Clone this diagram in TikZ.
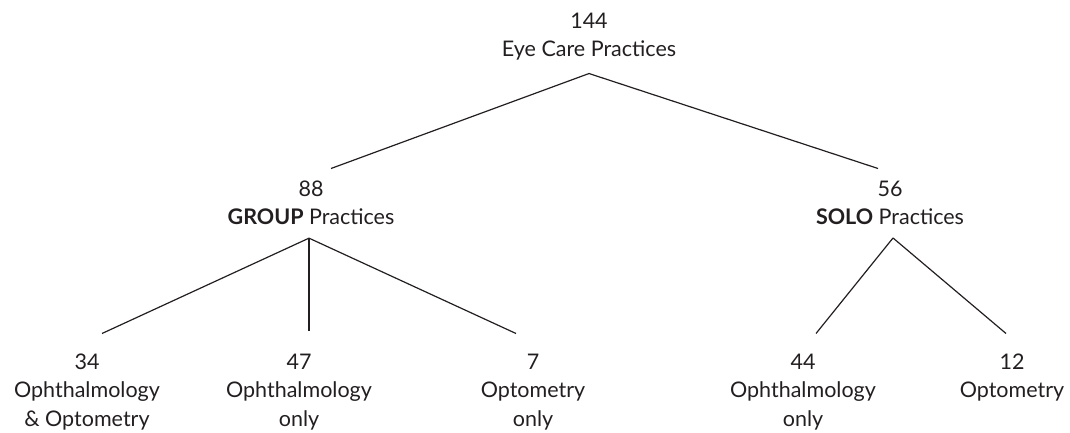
\documentclass[tikz,border=0pt]{standalone}
\usepackage{fontspec}
\setmainfont{Lato}
\usepackage{tikz}
\definecolor{inkgray}{RGB}{35,31,32}

\begin{document}
\begin{tikzpicture}[x=1pt,y=-1pt,
    count/.style={align=center,anchor=north,inner sep=0pt,text=inkgray,font=\fontsize{21.5}{28.5}\selectfont},
    branch/.style={draw=inkgray,line width=1.2pt}]
    \useasboundingbox (0,0) rectangle (1070,433);
    \node[count] (all) at (589,12.5) {144\\Eye Care Practices};
    \node[count] (group) at (311,180.5) {88\\\textbf{GROUP} Practices};
    \node[count] (solo) at (890,180.5) {56\\\textbf{SOLO} Practices};
    \node[count] (both) at (87,353.5) {34\\Ophthalmology\\\& Optometry};
    \node[count] (ophg) at (299,353.5) {47\\Ophthalmology\\only};
    \node[count] (optg) at (533,353.5) {7\\Optometry\\only};
    \node[count] (ophs) at (803,353.5) {44\\Ophthalmology\\only};
    \node[count] (opts) at (1012,353.5) {12\\Optometry};
    \draw[branch] ([yshift=-13pt]all.south) -- ([shift={(20pt,12pt)}]group.north);
    \draw[branch] ([yshift=-13pt]all.south) -- ([shift={(-12pt,12pt)}]solo.north);
    \draw[branch] ([shift={(-2pt,-13pt)}]group.south) -- ([shift={(15pt,20pt)}]both.north);
    \draw[branch] ([shift={(-2pt,-13pt)}]group.south) -- ([shift={(10pt,23pt)}]ophg.north);
    \draw[branch] ([shift={(-2pt,-13pt)}]group.south) -- ([shift={(-17pt,20pt)}]optg.north);
    \draw[branch] ([shift={(3pt,-13pt)}]solo.south) -- ([shift={(13pt,20pt)}]ophs.north);
    \draw[branch] ([shift={(3pt,-13pt)}]solo.south) -- ([shift={(-6pt,20pt)}]opts.north);
\end{tikzpicture}
\end{document}
